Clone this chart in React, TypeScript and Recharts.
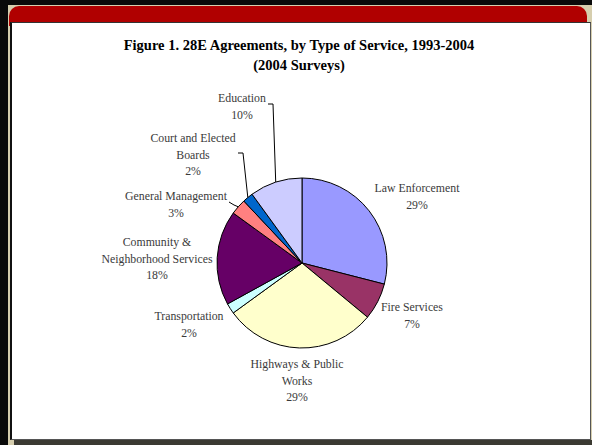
import React from "react";
import { PieChart, Pie, Cell } from "recharts";

const categories = [
  "Law Enforcement",
  "Fire Services",
  "Highways & Public Works",
  "Transportation",
  "Community & Neighborhood Services",
  "General Management",
  "Court and Elected Boards",
  "Education",
];
const shares = [29, 7, 29, 2, 18, 3, 2, 10];
const labelLines = [
  ["Law Enforcement"],
  ["Fire Services"],
  ["Highways & Public", "Works"],
  ["Transportation"],
  ["Community &", "Neighborhood Services"],
  ["General Management"],
  ["Court and Elected", "Boards"],
  ["Education"],
];

const COLORS = ["#9999ff", "#993366", "#ffffcc", "#ccffff", "#660066", "#ff8080", "#0066cc", "#ccccff"];

// label block offsets from pie centre (first line), plus optional leader start/elbow
const LABEL_OFFSETS: { dx: number; dy: number; lead?: [number, number, number, number] }[] = [
  { dx: 115, dy: -75 },
  { dx: 110, dy: 44 },
  { dx: -5, dy: 101 },
  { dx: -113, dy: 53 },
  { dx: -145, dy: -21 },
  { dx: -126, dy: -67, lead: [-73, -61, -68, -58] },
  { dx: -109, dy: -125, lead: [-64, -110, -59, -110] },
  { dx: -60, dy: -165, lead: [-34, -159, -29, -159] },
];

const data = categories.map((name, i) => ({ name, value: shares[i] }));

const RAD = Math.PI / 180;

function renderLabel(props: any) {
  const { cx, cy, midAngle, outerRadius, index, value } = props;
  const pos = LABEL_OFFSETS[index];
  const lines = [...labelLines[index], `${value}%`];
  const x = cx + pos.dx;
  let leader = null;
  if (pos.lead) {
    const ex = cx + outerRadius * Math.cos(-midAngle * RAD);
    const ey = cy + outerRadius * Math.sin(-midAngle * RAD);
    const [sx, sy, bx, by] = pos.lead;
    leader = (
      <polyline
        points={`${cx + sx},${cy + sy} ${cx + bx},${cy + by} ${ex},${ey}`}
        fill="none"
        stroke="#000"
        strokeWidth={1}
      />
    );
  }
  return (
    <g key={`lbl-${index}`}>
      {leader}
      {lines.map((t, k) => (
        <text
          key={k}
          x={x}
          y={cy + pos.dy + k * 16.5}
          textAnchor="middle"
          dominantBaseline="central"
          fontFamily="'Liberation Serif', serif"
          fontSize={11.8}
          fill="#3a3a3a"
        >
          {t}
        </text>
      ))}
    </g>
  );
}

export default function App() {
  return (
    <div
      style={{
        position: "absolute",
        left: 0,
        top: 0,
        width: 592,
        height: 445,
        background: "#0a0a0a",
        overflow: "hidden",
      }}
    >
      <div style={{ position: "absolute", left: 8, top: 5, width: 584, height: 440, background: "#d6ceae" }} />
      <div
        style={{
          position: "absolute",
          left: 9,
          top: 6,
          width: 578,
          height: 20,
          background: "#b00000",
          borderRadius: "10px 10px 0 0",
        }}
      />
      <div
        style={{
          position: "absolute",
          left: 10,
          top: 22,
          width: 578,
          height: 416,
          background: "#fff",
          borderTop: "1px solid #333",
          borderLeft: "2px solid #111",
          borderRight: "1px solid #555",
          borderBottom: "1px solid #555",
        }}
      />
      <div style={{ position: "absolute", left: 14, top: 440, width: 578, height: 5, background: "#3b3a32" }} />
      <div
        style={{
          position: "absolute",
          left: 94,
          top: 35,
          width: 410,
          textAlign: "center",
          fontFamily: "'Liberation Serif', serif",
          fontWeight: "bold",
          fontSize: 14.5,
          lineHeight: "20px",
          color: "#000",
        }}
      >
        <div>Figure 1. 28E Agreements, by Type of Service, 1993-2004</div>
        <div>(2004 Surveys)</div>
      </div>
      <div style={{ position: "absolute", left: 0, top: 0 }}>
        <PieChart width={592} height={445} margin={{ top: 0, right: 0, bottom: 0, left: 0 }}>
          <Pie
            data={data}
            dataKey="value"
            nameKey="name"
            cx={302}
            cy={263}
            outerRadius={85}
            startAngle={90}
            endAngle={-270}
            stroke="#000"
            strokeWidth={1}
            label={renderLabel}
            labelLine={false}
            isAnimationActive={false}
          >
            {data.map((d, i) => (
              <Cell key={d.name} fill={COLORS[i]} />
            ))}
          </Pie>
        </PieChart>
      </div>
    </div>
  );
}
